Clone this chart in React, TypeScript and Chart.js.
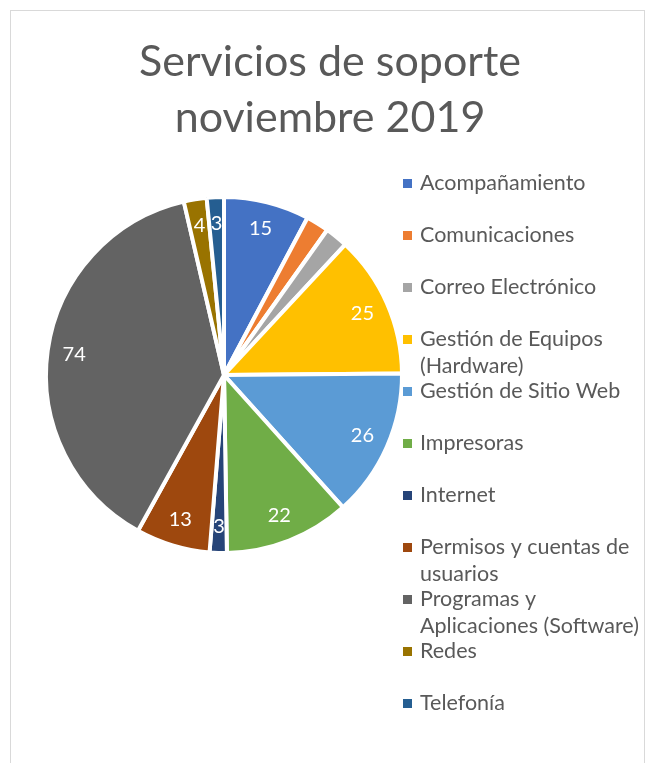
import React, { useEffect, useRef } from "react";
import { Chart, registerables } from "chart.js";

Chart.register(...registerables);

const categories: string[] = [
  "Acompañamiento",
  "Comunicaciones",
  "Correo Electrónico",
  "Gestión de Equipos (Hardware)",
  "Gestión de Sitio Web",
  "Impresoras",
  "Internet",
  "Permisos y cuentas de usuarios",
  "Programas y Aplicaciones (Software)",
  "Redes",
  "Telefonía",
];

const legendLines: string[][] = [
  ["Acompañamiento"],
  ["Comunicaciones"],
  ["Correo Electrónico"],
  ["Gestión de Equipos", "(Hardware)"],
  ["Gestión de Sitio Web"],
  ["Impresoras"],
  ["Internet"],
  ["Permisos y cuentas de", "usuarios"],
  ["Programas y", "Aplicaciones (Software)"],
  ["Redes"],
  ["Telefonía"],
];

const values: number[] = [15, 4, 4, 25, 26, 22, 3, 13, 74, 4, 3];

const hiddenLabels: string[] = ["Comunicaciones", "Correo Electrónico"];

const colors: string[] = [
  "#4472C4",
  "#ED7D31",
  "#A5A5A5",
  "#FFC000",
  "#5B9BD5",
  "#70AD47",
  "#264478",
  "#9E480E",
  "#636363",
  "#997300",
  "#255E91",
];

const titleLines: string[] = ["Servicios de soporte", "noviembre 2019"];

const FONT = "Lato, Carlito, Calibri, 'Open Sans', sans-serif";
const TEXT_COLOR = "#595959";

const decorPlugin = {
  id: "decor",
  beforeDraw(chart: any) {
    const ctx = chart.ctx;
    ctx.save();
    ctx.fillStyle = "#ffffff";
    ctx.fillRect(0, 0, chart.width, chart.height);
    ctx.strokeStyle = "#D9D9D9";
    ctx.lineWidth = 1;
    ctx.strokeRect(10.5, 10.5, 634, 800);
    ctx.restore();
  },
  afterDraw(chart: any) {
    const ctx = chart.ctx;
    ctx.save();
    // title
    ctx.fillStyle = TEXT_COLOR;
    ctx.textAlign = "center";
    ctx.textBaseline = "middle";
    ctx.font = `43px ${FONT}`;
    titleLines.forEach((t, i) => ctx.fillText(t, 330, 62 + i * 56));

    // data labels
    const meta = chart.getDatasetMeta(0);
    ctx.font = `20px ${FONT}`;
    ctx.fillStyle = "#ffffff";
    meta.data.forEach((arc: any, i: number) => {
      if (hiddenLabels.includes(categories[i])) return;
      const p = arc.getProps(["x", "y", "startAngle", "endAngle", "outerRadius"], true);
      const mid = (p.startAngle + p.endAngle) / 2;
      const r = p.outerRadius * 0.85;
      ctx.fillText(String(values[i]), p.x + Math.cos(mid) * r, p.y + Math.sin(mid) * r);
    });

    // legend
    ctx.textAlign = "left";
    ctx.font = `21.5px ${FONT}`;
    legendLines.forEach((lines, i) => {
      const y = 183 + i * 52;
      ctx.fillStyle = colors[i];
      ctx.fillRect(403, y - 4, 9, 9);
      ctx.fillStyle = TEXT_COLOR;
      lines.forEach((ln, j) => ctx.fillText(ln, 420, y + j * 27));
    });
    ctx.restore();
  },
};

export default function App() {
  const ref = useRef<HTMLCanvasElement | null>(null);
  useEffect(() => {
    if (!ref.current) return;
    const chart = new Chart(ref.current, {
      type: "pie",
      data: {
        labels: categories,
        datasets: [
          {
            data: values,
            backgroundColor: colors,
            borderColor: "#ffffff",
            borderWidth: 4,
          },
        ],
      },
      options: {
        responsive: false,
        animation: false,
        layout: { padding: { left: 44, right: 251, top: 195, bottom: 208 } },
        plugins: {
          legend: { display: false },
          title: { display: false },
          tooltip: { enabled: false },
        },
      },
      plugins: [decorPlugin],
    });
    return () => chart.destroy();
  }, []);
  return (
    <canvas
      ref={ref}
      width={655}
      height={763}
      style={{ position: "absolute", left: 0, top: 0, width: 655, height: 763 }}
    />
  );
}
